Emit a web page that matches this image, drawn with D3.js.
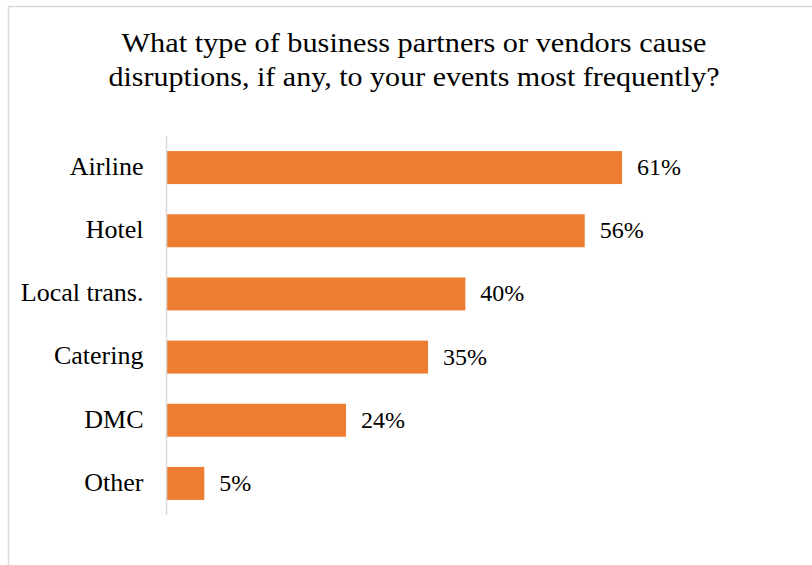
<!DOCTYPE html>
<html>
<head>
<meta charset="utf-8">
<script src="https://cdn.jsdelivr.net/npm/d3@7"></script>
<style>
  html, body { margin: 0; padding: 0; background: #fff; }
  svg { display: block; }
</style>
</head>
<body>
<svg id="chart" width="812" height="565"></svg>
<script>
// Survey answers: share of respondents naming each partner type
const categories = ["Airline", "Hotel", "Local trans.", "Catering", "DMC", "Other"];
const values = [61, 56, 40, 35, 24, 5];
const valueLabels = ["61%", "56%", "40%", "35%", "24%", "5%"];
const titleLines = [
  "What type of business partners or vendors cause",
  "disruptions, if any, to your events most frequently?"
];
const titleWidths = [585, 611];

const FONT = '"Liberation Serif"';
const svg = d3.select("#chart");
const W = 812, H = 565;

// Outer chart frame (runs off the right and bottom edges)
svg.append("rect")
  .attr("x", 8.5).attr("y", 6.5)
  .attr("width", W + 20).attr("height", H + 20)
  .attr("fill", "#fff")
  .attr("stroke", "#d9d9d9")
  .attr("stroke-width", 1.5);

// Title, two centred lines
svg.append("g")
  .selectAll("text")
  .data(titleLines)
  .join("text")
  .style("font-family", FONT)
  .attr("text-anchor", "middle")
  .attr("font-size", 28)
  .attr("fill", "#000")
  .attr("x", 414)
  .attr("y", (d, i) => 52 + i * 34)
  .attr("textLength", (d, i) => titleWidths[i])
  .attr("lengthAdjust", "spacingAndGlyphs")
  .text(d => d);

const plot = { left: 167, top: 136, bottom: 515 };

const y = d3.scaleBand()
  .domain(categories)
  .range([plot.top, plot.bottom])
  .paddingInner(0.478)
  .paddingOuter(0.239);

const x = d3.scaleLinear()
  .domain([0, 61])
  .range([plot.left, 622]);

// Bars
svg.append("g")
  .selectAll("rect")
  .data(values)
  .join("rect")
  .attr("x", x(0))
  .attr("y", (d, i) => y(categories[i]))
  .attr("width", d => x(d) - x(0))
  .attr("height", y.bandwidth())
  .attr("fill", "#ED7D31");

// Category axis
const yAxis = svg.append("g")
  .attr("transform", `translate(${plot.left - 0.5},0)`)
  .call(d3.axisLeft(y).tickSize(0).tickPadding(23));
yAxis.attr("font-family", null);
yAxis.select(".domain")
  .attr("d", `M0,${plot.top}V${plot.bottom}`)
  .attr("stroke", "#d9d9d9")
  .attr("stroke-width", 1.5);
yAxis.selectAll(".tick text")
  .style("font-family", FONT)
  .attr("font-size", 26)
  .attr("dy", "0.28em")
  .attr("fill", "#000");

// Value labels
svg.append("g")
  .selectAll("text")
  .data(values)
  .join("text")
  .style("font-family", FONT)
  .attr("x", d => x(d) + 15)
  .attr("y", (d, i) => y(categories[i]) + y.bandwidth() / 2)
  .attr("dy", "0.31em")
  .attr("font-size", 24)
  .attr("fill", "#000")
  .text((d, i) => valueLabels[i]);
</script>
</body>
</html>
